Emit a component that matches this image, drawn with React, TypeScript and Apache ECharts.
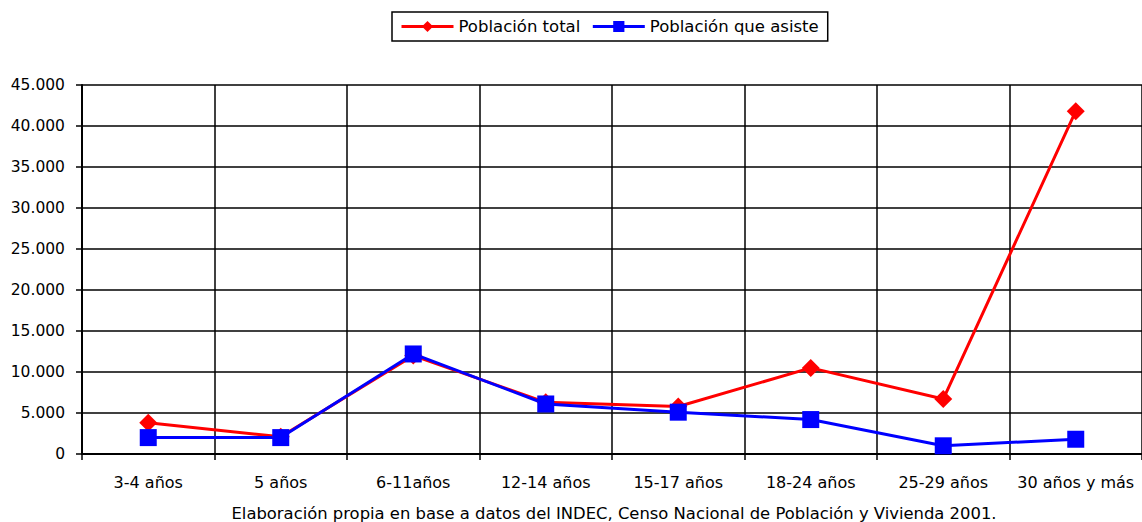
import React, { useEffect, useRef } from "react";
import * as echarts from "echarts";

const categories = ["3-4 años", "5 años", "6-11años", "12-14 años", "15-17 años", "18-24 años", "25-29 años", "30 años y más"];
const poblacionTotal = [3800, 2100, 12000, 6300, 5800, 10500, 6700, 41800];
const poblacionAsiste = [2000, 2000, 12200, 6100, 5100, 4200, 1000, 1800];
const seriesNames = ["Población total", "Población que asiste"];
const caption = "Elaboración propia en base a datos del INDEC, Censo Nacional de Población y Vivienda 2001.";

const fmt = (v: number) => String(v).replace(/\B(?=(\d{3})+(?!\d))/g, ".");

export default function App() {
  const ref = useRef<HTMLDivElement>(null);
  useEffect(() => {
    if (!ref.current) return;
    const chart = echarts.init(ref.current, undefined, { renderer: "svg" });
    const font = "'DejaVu Sans', sans-serif";
    chart.setOption({
      animation: false,
      backgroundColor: "#ffffff",
      textStyle: { fontFamily: font, color: "#000" },
      legend: {
        top: 12,
        left: 392,
        data: seriesNames,
        borderColor: "#000",
        borderWidth: 1.5,
        padding: [6, 9, 6, 8],
        itemGap: 11,
        itemWidth: 52,
        itemHeight: 14,
        lineStyle: { width: 3 },
        textStyle: { fontFamily: font, fontSize: 16.5, color: "#000", padding: [0, 0, 0, 0] },
      },
      grid: { left: 82, right: -6, top: 85, bottom: 68 },
      xAxis: {
        type: "category",
        data: categories,
        boundaryGap: true,
        axisLine: { lineStyle: { color: "#000", width: 2 } },
        axisTick: { show: true, length: 6, lineStyle: { color: "#000", width: 1.5 } },
        axisLabel: { color: "#000", fontSize: 16, margin: 20, fontFamily: font, interval: 0, hideOverlap: false },
        splitLine: { show: true, interval: 0, lineStyle: { color: "#000", width: 1.5 } },
      },
      yAxis: {
        type: "value",
        min: 0,
        max: 45000,
        interval: 5000,
        axisLine: { show: true, lineStyle: { color: "#000", width: 2 } },
        axisTick: { show: true, length: 6, lineStyle: { color: "#000", width: 1.5 } },
        axisLabel: { color: "#000", fontSize: 15.5, margin: 17, fontFamily: font, formatter: (v: number) => fmt(v) },
        splitLine: { show: true, lineStyle: { color: "#000", width: 1.5 } },
      },
      series: [
        {
          name: seriesNames[0],
          type: "line",
          data: poblacionTotal,
          symbol: "diamond",
          symbolSize: 18,
          color: "#ff0000",
          lineStyle: { color: "#ff0000", width: 3 },
          itemStyle: { color: "#ff0000" },
        },
        {
          name: seriesNames[1],
          type: "line",
          data: poblacionAsiste,
          symbol: "rect",
          symbolSize: 17,
          color: "#0000ff",
          lineStyle: { color: "#0000ff", width: 3 },
          itemStyle: { color: "#0000ff" },
        },
      ],
      graphic: [
        {
          type: "text",
          x: 614,
          y: 513,
          style: { text: caption, font: `16.4px ${font}`, fill: "#000", textAlign: "center", textVerticalAlign: "middle" },
        },
      ],
    });
    return () => chart.dispose();
  }, []);
  return <div ref={ref} style={{ position: "fixed", left: 0, top: 0, width: 1142, height: 522 }} />;
}
